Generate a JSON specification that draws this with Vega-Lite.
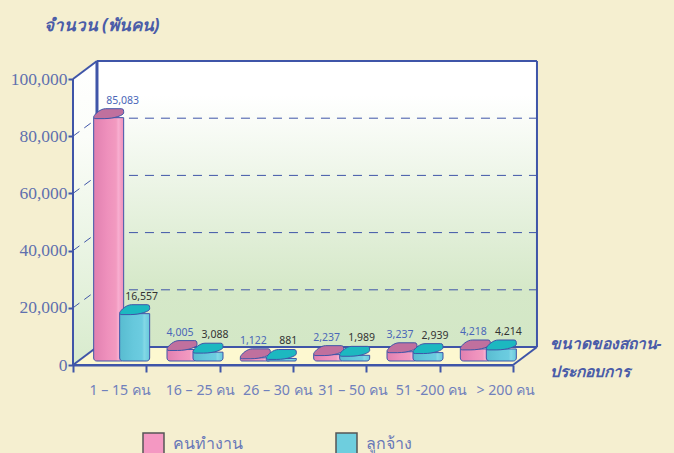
{
"$schema":"https://vega.github.io/schema/vega-lite/v6.json",
"width":440,"height":286,"autosize":"none",
"padding":{"left":73,"top":79,"right":161,"bottom":88},
"background":"#f5efd0",
"config":{"view":{"stroke":null},"axisY":{"labelFont":"Liberation Serif, Times New Roman, serif"}},
"datasets":{"d":[
{"size":"1 – 15 คน","series":"คนทำงาน","value":85083},
{"size":"16 – 25 คน","series":"คนทำงาน","value":4005},
{"size":"26 – 30 คน","series":"คนทำงาน","value":1122},
{"size":"31 – 50 คน","series":"คนทำงาน","value":2237},
{"size":"51 -200 คน","series":"คนทำงาน","value":3237},
{"size":"> 200 คน","series":"คนทำงาน","value":4218},
{"size":"1 – 15 คน","series":"ลูกจ้าง","value":16557},
{"size":"16 – 25 คน","series":"ลูกจ้าง","value":3088},
{"size":"26 – 30 คน","series":"ลูกจ้าง","value":881},
{"size":"31 – 50 คน","series":"ลูกจ้าง","value":1989},
{"size":"51 -200 คน","series":"ลูกจ้าง","value":2939},
{"size":"> 200 คน","series":"ลูกจ้าง","value":4214}
]},
"resolve":{"scale":{"x":"independent"}},
"layer":[
{"encoding":{
  "x":{"type":"quantitative","scale":{"domain":[0,6],"nice":false,"zero":false},"axis":null},
  "y":{"type":"quantitative","scale":{"domain":[0,100000],"nice":false},
    "axis":{"title":"จำนวน (พันคน)","titleFont":"Noto Sans","titleFontSize":17,"titleFontStyle":"italic","titleFontWeight":"bold","titleColor":"#4a5ca8","titleAngle":0,"titleAlign":"left","titleBaseline":"middle","titleX":-30,"titleY":-54,"labelFont":"Liberation Serif, Times New Roman, serif","labelFontSize":17.5,"labelColor":"#5f70ae","labelPadding":1,"tickSize":5,"tickColor":"#3f55a8","tickWidth":2,"domainColor":"#3f55a8","domainWidth":2,"grid":false,"labelExpr":"format(datum.value,',')","values":[0,20000,40000,60000,80000,100000]}}},
 "layer":[
  {"data":{"values":[{"x":0.327,"x2":6.327,"y":6294,"y2":106294}]},
   "mark":{"type":"rect","fill":{"x1":0,"y1":0,"x2":0,"y2":1,"gradient":"linear","stops":[{"offset":0,"color":"#ffffff"},{"offset":0.12,"color":"#ffffff"},{"offset":0.8,"color":"#d5e8c8"},{"offset":1,"color":"#d3e7c6"}]}},
   "encoding":{"x":{"field":"x"},"x2":{"field":"x2"},"y":{"field":"y"},"y2":{"field":"y2"}}},
  {"data":{"values":[{"x":0,"y":0,"y2":100000},{"x":0.327,"y":6294,"y2":106294}]},
   "mark":{"type":"area","fill":{"x1":0,"y1":0,"x2":0,"y2":1,"gradient":"linear","stops":[{"offset":0,"color":"#ffffff"},{"offset":0.25,"color":"#fbfdf9"},{"offset":1,"color":"#d8ebcd"}]}},
   "encoding":{"x":{"field":"x"},"y":{"field":"y"},"y2":{"field":"y2"}}},
  {"data":{"values":[{"y":0,"x":0,"x2":6},{"y":6294,"x":0.327,"x2":6.327}]},
   "mark":{"type":"area","orient":"horizontal","fill":"#fdf8d0"},
   "encoding":{"y":{"field":"y"},"x":{"field":"x"},"x2":{"field":"x2"}}},
  {"data":{"values":[{"v":20000,"b":26294},{"v":40000,"b":46294},{"v":60000,"b":66294},{"v":80000,"b":86294}]},
   "mark":{"type":"rule","color":"#3f55a8","strokeWidth":1,"strokeDash":[9,7]},
   "encoding":{"x":{"datum":0.327},"x2":{"datum":6.327},"y":{"field":"b"}}},
  {"data":{"values":[{"x":0,"x2":0.26,"y":20000,"y2":24900},{"x":0,"x2":0.26,"y":40000,"y2":44900},{"x":0,"x2":0.26,"y":60000,"y2":64900},{"x":0,"x2":0.26,"y":80000,"y2":84900}]},
   "mark":{"type":"rule","color":"#3f55a8","strokeWidth":1,"strokeDash":[8,6]},
   "encoding":{"x":{"field":"x"},"x2":{"field":"x2"},"y":{"field":"y"},"y2":{"field":"y2"}}},
  {"data":{"values":[
    {"x":0.327,"x2":6.327,"y":106294,"y2":106294},
    {"x":6.327,"x2":6.327,"y":6294,"y2":106294},
    {"x":0.327,"x2":6.327,"y":6294,"y2":6294},
    {"x":0,"x2":0.327,"y":100000,"y2":106294},
    {"x":0,"x2":0.327,"y":0,"y2":6294},
    {"x":6,"x2":6.327,"y":0,"y2":6294},
    {"x":0,"x2":0,"y":0,"y2":100000},
    {"x":0,"x2":6,"y":0,"y2":0}]},
   "mark":{"type":"rule","color":"#3f55a8","strokeWidth":2},
   "encoding":{"x":{"field":"x"},"x2":{"field":"x2"},"y":{"field":"y"},"y2":{"field":"y2"}}},
  {"data":{"values":[{"x":0.327,"x2":0.327,"y":6294,"y2":106294}]},
   "mark":{"type":"rule","color":"#3f55a8","strokeWidth":3},
   "encoding":{"x":{"field":"x"},"x2":{"field":"x2"},"y":{"field":"y"},"y2":{"field":"y2"}}}
 ]},
{"data":{"name":"d"},
 "encoding":{
  "x":{"field":"size","type":"nominal","sort":null,"scale":{"paddingInner":0,"paddingOuter":0},
    "axis":{"title":["ขนาดของสถาน-","ประกอบการ"],"titleFont":"Noto Sans","titleFontSize":15.5,"titleFontStyle":"italic","titleFontWeight":"bold","titleColor":"#4a5ca8","titleAlign":"left","titleBaseline":"middle","titleAnchor":"start","titleX":476,"titleY":-22,"titleLineHeight":28,
      "labelOffset":{"expr":"{'1 – 15 คน':10,'16 – 25 คน':17,'26 – 30 คน':21,'31 – 50 คน':23,'51 -200 คน':28,'> 200 คน':29}[datum.value]"},
      "tickBand":"extent","labelAngle":0,"labelFont":"Noto Sans","labelFontSize":14.2,"labelColor":"#7080bc","labelPadding":11,"labelLimit":100,"tickSize":7,"tickWidth":2,"tickColor":"#3f55a8","domainColor":"#3f55a8","domainWidth":2}},
  "y":{"field":"value","type":"quantitative"}},
 "layer":[
  {"transform":[{"filter":"datum.series==='คนทำงาน'"}],
   "mark":{"type":"bar","width":30,"xOffset":-1,"yOffset":-4,"y2Offset":-4,"stroke":"#3f55a8","strokeWidth":1,"cornerRadiusBottomLeft":3,"cornerRadiusBottomRight":3,"fill":{"x1":0,"y1":0,"x2":1,"y2":0,"gradient":"linear","stops":[{"offset":0,"color":"#e080b0"},{"offset":0.45,"color":"#ee90bc"},{"offset":0.75,"color":"#f29ac0"},{"offset":0.82,"color":"#f8aed0"},{"offset":1,"color":"#ee90bc"}]}},
   "encoding":{"y":{"field":"value","type":"quantitative","stack":null},"y2":{"datum":0}}},
  {"transform":[{"filter":"datum.series==='คนทำงาน'"}],
   "mark":{"type":"point","filled":true,"opacity":1,"size":900,"xOffset":-1,"yOffset":-8,"stroke":"#3f55a8","strokeWidth":1,"fill":"#c0709e","shape":"M-1,0.2 C-0.9,0 -0.55,-0.33 -0.2,-0.33 L0.85,-0.33 C1,-0.33 1,-0.2 1,-0.05 C1,0.1 0.4,0.33 -0.3,0.33 L-0.85,0.33 C-1,0.33 -1,0.25 -1,0.2 Z"}},
  {"transform":[{"filter":"datum.series==='ลูกจ้าง'"}],
   "mark":{"type":"bar","width":30,"xOffset":25,"yOffset":-4,"y2Offset":-4,"stroke":"#3f55a8","strokeWidth":1,"cornerRadiusBottomLeft":3,"cornerRadiusBottomRight":3,"fill":{"x1":0,"y1":0,"x2":1,"y2":0,"gradient":"linear","stops":[{"offset":0,"color":"#58bcd0"},{"offset":0.45,"color":"#66c8dc"},{"offset":0.75,"color":"#6ccce0"},{"offset":0.82,"color":"#84d8e6"},{"offset":1,"color":"#66c8dc"}]}},
   "encoding":{"y":{"field":"value","type":"quantitative","stack":null},"y2":{"datum":0}}},
  {"transform":[{"filter":"datum.series==='ลูกจ้าง'"}],
   "mark":{"type":"point","filled":true,"opacity":1,"size":900,"xOffset":25,"yOffset":-8,"stroke":"#3f55a8","strokeWidth":1,"fill":"#1cb8c0","shape":"M-1,0.2 C-0.9,0 -0.55,-0.33 -0.2,-0.33 L0.85,-0.33 C1,-0.33 1,-0.2 1,-0.05 C1,0.1 0.4,0.33 -0.3,0.33 L-0.85,0.33 C-1,0.33 -1,0.25 -1,0.2 Z"}},
  {"transform":[{"filter":"datum.series==='คนทำงาน'"}],
   "mark":{"type":"text","fontSize":10.5,"color":"#4a66b8","font":"Noto Sans","dx":{"expr":"datum.value>50000?13:-3"},"dy":-21},
   "encoding":{"text":{"field":"value","format":","}}},
  {"transform":[{"filter":"datum.series==='ลูกจ้าง'"}],
   "mark":{"type":"text","fontSize":10.5,"color":"#333333","font":"Noto Sans","dx":32,"dy":-21},
   "encoding":{"text":{"field":"value","format":","}}},
  {"mark":{"type":"point","filled":true,"opacity":0,"size":0},
   "encoding":{"color":{"field":"series","type":"nominal","sort":null,"scale":{"domain":["คนทำงาน","ลูกจ้าง"],"range":["#f498c2","#6ecede"]},
     "legend":{"title":null,"orient":"none","legendX":69,"legendY":353,"columns":2,"direction":"horizontal","columnPadding":90,"symbolType":"square","symbolSize":441,"symbolStrokeColor":"#555555","symbolStrokeWidth":1.5,"symbolOpacity":1,"labelFontSize":16,"labelColor":"#6878b8","labelOffset":8,"labelFont":"Noto Sans"}}}}
 ]}
]}
